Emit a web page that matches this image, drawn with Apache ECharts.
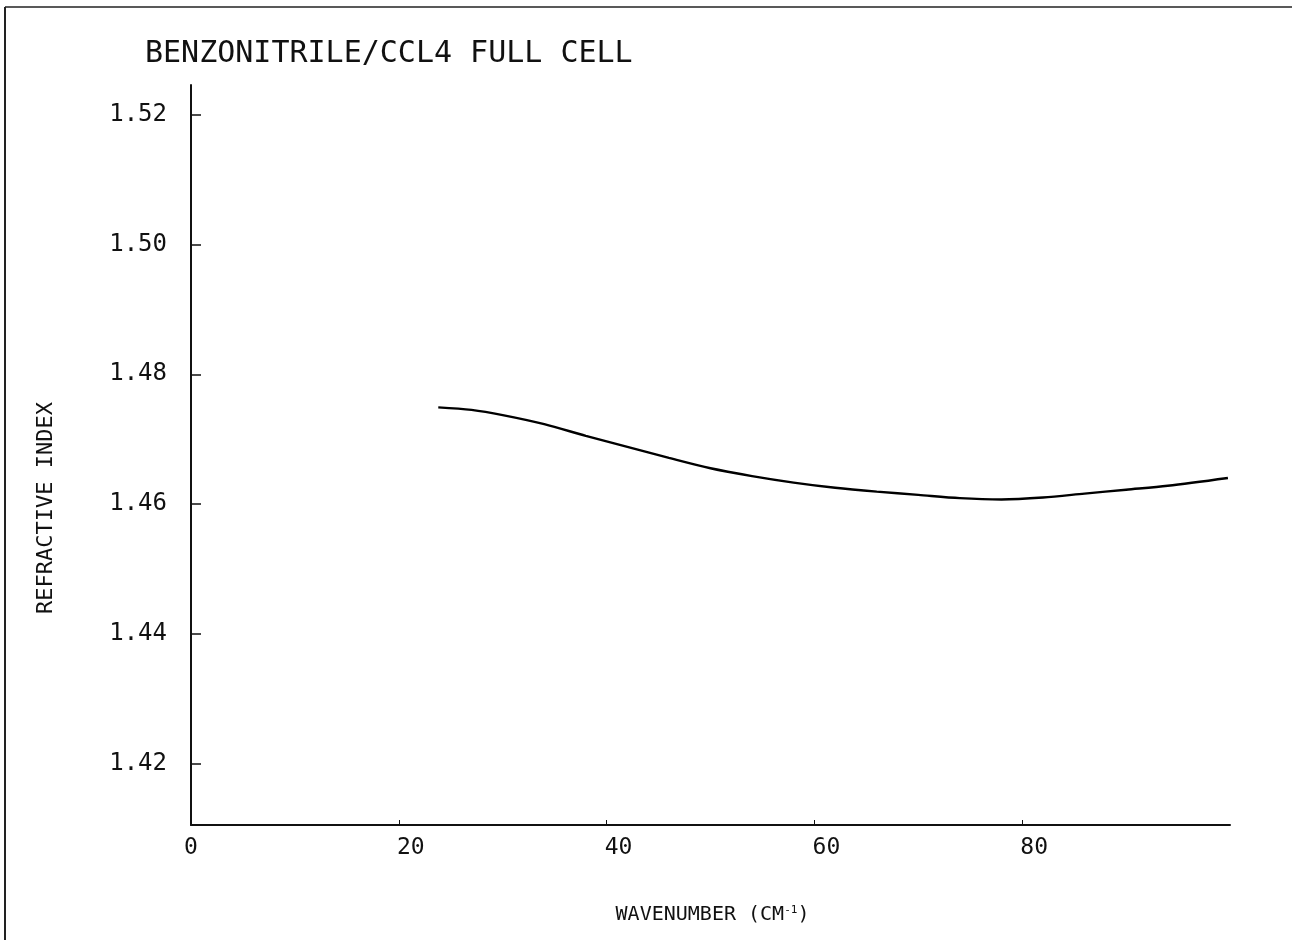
<!DOCTYPE html>
<html>
<head>
<meta charset="utf-8">
<script src="https://cdn.jsdelivr.net/npm/echarts@6/dist/echarts.min.js"></script>
<style>html,body{margin:0;padding:0;background:#fff}#c{width:1292px;height:940px}</style>
</head>
<body>
<div id="c"></div>
<script>
const wavenumber = [23.8, 27, 30, 34, 38, 42, 46, 50, 54, 58, 62, 66, 70, 74, 78, 82, 86, 90, 94, 99.8];
const refractiveIndex = [1.4749, 1.4745, 1.4737, 1.4723, 1.4705, 1.4688, 1.4671, 1.4655, 1.4643, 1.4633, 1.4625, 1.4619, 1.4614, 1.4609, 1.4607, 1.4610, 1.4616, 1.4622, 1.4628, 1.4640];
const xTicks = [0, 20, 40, 60, 80];
const yTicks = [1.42, 1.44, 1.46, 1.48, 1.50, 1.52];
const titleText = 'BENZONITRILE/CCL4 FULL CELL';
const yName = 'REFRACTIVE INDEX';

const FONT = 'DejaVu Sans Mono';
const chart = echarts.init(document.getElementById('c'));
chart.setOption({
  animation: false,
  backgroundColor: '#fff',
  title: {
    text: titleText, left: 140, top: 34,
    textStyle: { fontFamily: FONT, fontSize: 30, fontWeight: 'normal', color: '#111' }
  },
  grid: { left: 191, right: 62, top: 85, bottom: 115 },
  xAxis: {
    type: 'value', min: 0, max: 100,
    axisLine: { lineStyle: { color: '#111', width: 2 } },
    axisTick: { inside: true, length: 5, customValues: xTicks, lineStyle: { color: '#111', width: 1 } },
    axisLabel: { customValues: xTicks, margin: 12,
      formatter: v => v === 0 ? '{z|0}' : '{n|' + v + '}',
      rich: {
        z: { fontFamily: FONT, fontSize: 23, color: '#111' },
        n: { fontFamily: FONT, fontSize: 23, color: '#111', padding: [0, 0, 0, 24] }
      } },
    splitLine: { show: false },
    name: '{a|WAVENUMBER (CM}{s|-1}{a|)}', nameLocation: 'middle', nameGap: 80,
    nameTextStyle: { padding: [0, 0, 0, 4], rich: {
      a: { fontFamily: FONT, fontSize: 20, color: '#111' },
      s: { fontFamily: FONT, fontSize: 11, color: '#111', verticalAlign: 'top', padding: [0, 0, 9, 0] }
    } }
  },
  yAxis: {
    type: 'value', min: 1.4105, max: 1.5246,
    axisLine: { show: true, lineStyle: { color: '#111', width: 2 } },
    axisTick: { show: true, inside: true, length: 10, customValues: yTicks, lineStyle: { color: '#111', width: 1.5 } },
    axisLabel: { customValues: yTicks, margin: 24, fontFamily: FONT, fontSize: 24, color: '#111',
      formatter: v => v.toFixed(2) },
    splitLine: { show: false }
  },
  series: [{
    type: 'line', data: wavenumber.map((x, i) => [x, refractiveIndex[i]]),
    smooth: 0.3, showSymbol: false, lineStyle: { color: '#000', width: 2.4 }
  }],
  graphic: [
    { type: 'line', shape: { x1: 5, y1: 7, x2: 1292, y2: 7 }, style: { stroke: '#222', lineWidth: 1.5 } },
    { type: 'line', shape: { x1: 5, y1: 7, x2: 5, y2: 940 }, style: { stroke: '#222', lineWidth: 2 } },
    { type: 'text', x: 46, y: 508, rotation: Math.PI / 2,
      style: { text: yName, fontFamily: FONT, fontSize: 22, fill: '#111', align: 'center', verticalAlign: 'middle' } }
  ]
});
</script>
</body>
</html>
